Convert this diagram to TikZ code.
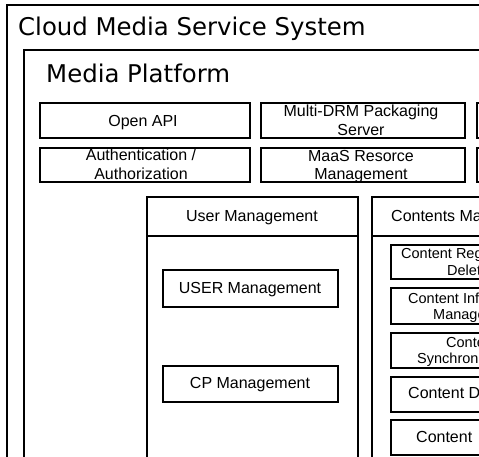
\documentclass[tikz,border=0pt]{standalone}
\usepackage{fontspec}
\setmainfont{Liberation Sans}
\newfontfamily\headfont{DejaVu Sans}
\tikzset{
  frame/.style={draw, line width=1.6pt, inner sep=0pt, outer sep=0pt, anchor=north west},
  box/.style={draw, line width=2pt, inner sep=0pt, outer sep=0pt, anchor=north west},
  lbl/.style={inner sep=0pt, anchor=base, font=\fontsize{16}{19}\selectfont},
  lblw/.style={lbl, anchor=base west},
  sml/.style={inner sep=0pt, anchor=base west, font=\fontsize{14.5}{17}\selectfont},
  big/.style={inner sep=0pt, anchor=base west, font=\headfont\fontsize{24.4}{28}\selectfont},
  sep/.style={line width=2pt}
}
\begin{document}
\begin{tikzpicture}[x=1pt, y=-1pt]
\useasboundingbox (0,0) rectangle (479,457);
\clip (0,0) rectangle (479,457);
\fill[white] (0,0) rectangle (479,457);

% outer frames
\node[frame, minimum width=700pt, minimum height=700pt] (sys) at (7,5) {};
\node[frame, minimum width=700pt, minimum height=700pt] (plat) at (24,50) {};
\node[big] (systitle) at (18,36) {Cloud Media Service System};
\node[big] (plattitle) at (46,83) {Media Platform};

% top rows
\node[box, minimum width=210pt, minimum height=35pt] (openapi) at (40,103) {};
\node[box, minimum width=204pt, minimum height=35pt] (drm) at (261,103) {};
\node[box, minimum width=204pt, minimum height=35pt] (rowa) at (477,103) {};
\node[box, minimum width=210pt, minimum height=34pt] (auth) at (40,148) {};
\node[box, minimum width=204pt, minimum height=34pt] (maas) at (261,148) {};
\node[box, minimum width=204pt, minimum height=34pt] (rowb) at (477,148) {};

\node[lbl] (openapiT) at (143,127) {Open API};
\node[lbl] (drmT1) at (361,117) {Multi-DRM Packaging};
\node[lbl] (drmT2) at (361,136) {Server};
\node[lbl] (authT1) at (141,161) {Authentication /};
\node[lbl] (authT2) at (141,180) {Authorization};
\node[lbl] (maasT1) at (361,162) {MaaS Resorce};
\node[lbl] (maasT2) at (361,180) {Management};

% user management column
\node[box, minimum width=211pt, minimum height=400pt] (userm) at (147,197) {};
\coordinate (uhl) at (147,236);
\coordinate (uhr) at (358,236);
\draw[sep] (uhl) -- (uhr);
\node[lbl] (usermT) at (252,222) {User Management};
\node[box, minimum width=175pt, minimum height=37pt] (usr) at (163,270) {};
\node[lbl] (usrT) at (250,293) {USER Management};
\node[box, minimum width=175pt, minimum height=36pt] (cp) at (163,366) {};
\node[lbl] (cpT) at (250,388.5) {CP Management};

% contents management column
\node[box, minimum width=200pt, minimum height=400pt] (contm) at (372,197) {};
\coordinate (chl) at (372,236);
\coordinate (chr) at (572,236);
\draw[sep] (chl) -- (chr);
\node[lblw] (contmT) at (391,222) {Contents Management};

\node[box, minimum width=160pt, minimum height=34pt] (c1) at (391,245) {};
\node[box, minimum width=160pt, minimum height=36pt] (c2) at (391,288) {};
\node[box, minimum width=160pt, minimum height=35pt] (c3) at (391,333) {};
\node[box, minimum width=160pt, minimum height=35pt] (c4) at (391,377) {};
\node[box, minimum width=160pt, minimum height=35pt] (c5) at (391,420) {};

\node[sml] (c1T1) at (401,258) {Content Registration /};
\node[sml] (c1T2) at (447,275) {Deletion};
\node[sml] (c2T1) at (408,303) {Content Information};
\node[sml] (c2T2) at (433,319) {Management};
\node[sml] (c3T1) at (446,347) {Content};
\node[sml] (c3T2) at (417,363) {Synchronization};
\node[lblw] (c4T) at (408,398.5) {Content Delivery};
\node[lblw] (c5T) at (416,442) {Content};
\end{tikzpicture}
\end{document}
